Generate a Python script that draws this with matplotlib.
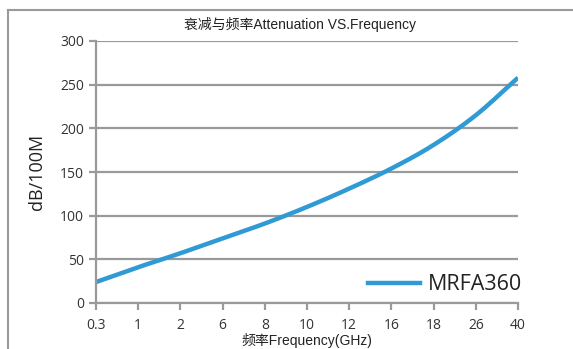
import numpy as np
import matplotlib.pyplot as plt
from matplotlib.lines import Line2D

freq_labels = ["0.3", "1", "2", "6", "8", "10", "12", "16", "18", "26", "40"]
attenuation = [24, 41, 57, 74, 91, 110, 131, 154, 181, 215, 258]
series_name = "MRFA360"
y_ticks = [0, 50, 100, 150, 200, 250, 300]

plt.rcParams['font.family'] = ['Open Sans', 'Noto Sans CJK SC', 'DejaVu Sans']


def smooth(xs, ys, n=20):
    # Catmull-Rom curve through the points, like a spreadsheet "smoothed line"
    p = np.column_stack([xs, ys]).astype(float)
    p = np.vstack([2 * p[0] - p[1], p, 2 * p[-1] - p[-2]])
    out = []
    t = np.linspace(0, 1, n, endpoint=False)[:, None]
    for i in range(1, len(p) - 2):
        p0, p1, p2, p3 = p[i - 1], p[i], p[i + 1], p[i + 2]
        seg = 0.5 * (2 * p1 + (-p0 + p2) * t + (2 * p0 - 5 * p1 + 4 * p2 - p3) * t ** 2
                     + (-p0 + 3 * p1 - 3 * p2 + p3) * t ** 3)
        out.append(seg)
    out.append(p[-2][None, :])
    out = np.vstack(out)
    return out[:, 0], out[:, 1]


fig = plt.figure(figsize=(5.73, 3.49), dpi=100)
ax = fig.add_axes([96 / 573, 1 - 303 / 349, 422 / 573, 262 / 349])

x = list(range(len(freq_labels)))
sx, sy = smooth(x, attenuation)
ax.plot(sx, sy, color='#2F9AD3', lw=3.2, solid_capstyle='butt',
        solid_joinstyle='round')

ax.set_xlim(0, len(freq_labels) - 1)
ax.set_ylim(0, 300)
ax.set_xticks(x)
ax.set_xticklabels(freq_labels)
ax.set_yticks(y_ticks)
ax.grid(axis='y', color='#9A9A9A', lw=1.6)
ax.set_axisbelow(True)
for s in ['top', 'right']:
    ax.spines[s].set_visible(False)
for s in ['left', 'bottom']:
    ax.spines[s].set_color('#9A9A9A')
    ax.spines[s].set_linewidth(1.6)
ax.tick_params(axis='both', colors='#9A9A9A', width=1.6, length=5,
               labelcolor='#333333', labelsize=10)
ax.tick_params(axis='x', pad=6)

ax.set_ylabel("dB/100M", fontsize=13, color='#222222', labelpad=10)
ax.set_xlabel("频率Frequency(GHz)", fontsize=10, color='#222222', labelpad=0,
              family=['Liberation Sans', 'Noto Sans CJK SC'])
fig.text(300 / 573, 1 - 24 / 349, "衰减与频率Attenuation VS.Frequency",
         ha='center', va='center', fontsize=10, color='#222222',
         family=['Liberation Sans', 'Noto Sans CJK SC'])

ax.legend(handles=[Line2D([], [], color='#2F9AD3', lw=3.2)], labels=[series_name],
          loc='lower right', bbox_to_anchor=(1.055, -0.045), frameon=False,
          fontsize=15.5, handlelength=2.4, handletextpad=0.35,
          labelcolor='#222222')

# outer frame lines
fig.add_artist(Line2D([8 / 573, 8 / 573], [0, 1 - 10 / 349], color='#9A9A9A', lw=1.5))
fig.add_artist(Line2D([8 / 573, 1], [1 - 10 / 349, 1 - 10 / 349], color='#9A9A9A', lw=1.5))

fig.savefig("out.png", dpi=100)
